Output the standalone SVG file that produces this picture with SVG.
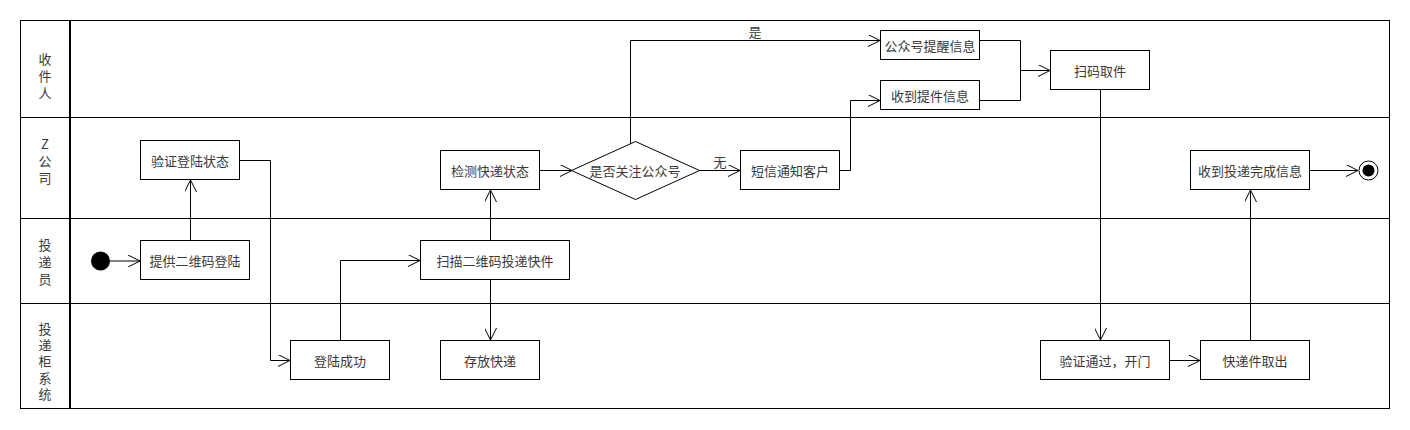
<svg xmlns="http://www.w3.org/2000/svg" width="1410" height="430" viewBox="0 0 1410 430">
<style>
.box{fill:#fff;stroke:#000;stroke-width:1}
.t{font-family:"Noto Sans CJK SC","Liberation Sans",sans-serif;font-size:13px;fill:#3a3a3a;text-anchor:middle;dominant-baseline:central}
.lane{font-family:"Noto Sans CJK SC","Liberation Sans",sans-serif;font-size:13px;fill:#3a3a3a;text-anchor:middle;dominant-baseline:central}
.c{fill:none;stroke:#000;stroke-width:1}
</style>
<defs>
<marker id="arr" markerUnits="userSpaceOnUse" markerWidth="14" markerHeight="12" refX="12" refY="6" orient="auto">
<path d="M0,0 L12,6 L0,12" fill="none" stroke="#000" stroke-width="1"/>
</marker>
</defs>
<rect width="1410" height="430" fill="#fff"/>
<g id="lanes">
<rect x="20.5" y="20.5" width="1369" height="388" fill="none" stroke="#000"/>
<line x1="70" y1="20" x2="70" y2="409" stroke="#000" stroke-width="2"/>
<line x1="20" y1="117.5" x2="1390" y2="117.5" stroke="#000"/>
<line x1="20" y1="218.5" x2="1390" y2="218.5" stroke="#000"/>
<line x1="20" y1="303.5" x2="1390" y2="303.5" stroke="#000"/>
<text class="lane" x="45" y="58">收</text>
<text class="lane" x="45" y="75">件</text>
<text class="lane" x="45" y="92">人</text>
<text class="lane" x="45" y="143">Z</text>
<text class="lane" x="45" y="160">公</text>
<text class="lane" x="45" y="177">司</text>
<text class="lane" x="45" y="244">投</text>
<text class="lane" x="45" y="261">递</text>
<text class="lane" x="45" y="278">员</text>
<text class="lane" x="45" y="328">投</text>
<text class="lane" x="45" y="344">递</text>
<text class="lane" x="45" y="360">柜</text>
<text class="lane" x="45" y="377">系</text>
<text class="lane" x="45" y="393">统</text>
</g>
<g id="connectors">
<line class="c" x1="110" y1="261" x2="140" y2="261" marker-end="url(#arr)"/>
<line class="c" x1="190.5" y1="240" x2="190.5" y2="180" marker-end="url(#arr)"/>
<polyline class="c" points="240,160.5 270.5,160.5 270.5,360.5 290,360.5" marker-end="url(#arr)"/>
<polyline class="c" points="340.5,340 340.5,260.5 420,260.5" marker-end="url(#arr)"/>
<line class="c" x1="490.5" y1="280" x2="490.5" y2="340" marker-end="url(#arr)"/>
<line class="c" x1="490.5" y1="240" x2="490.5" y2="190" marker-end="url(#arr)"/>
<line class="c" x1="540" y1="170.5" x2="572" y2="170.5" marker-end="url(#arr)"/>
<line class="c" x1="699" y1="170.5" x2="740" y2="170.5" marker-end="url(#arr)"/>
<text class="t" x="720" y="161">无</text>
<polyline class="c" points="630.5,145 630.5,40.5 880,40.5" marker-end="url(#arr)"/>
<text class="t" x="755" y="31">是</text>
<polyline class="c" points="840,170.5 850.5,170.5 850.5,100.5 880,100.5" marker-end="url(#arr)"/>
<polyline class="c" points="980,40.5 1020.5,40.5 1020.5,100.5 980,100.5"/>
<line class="c" x1="1020" y1="70.5" x2="1050" y2="70.5" marker-end="url(#arr)"/>
<line class="c" x1="1100.5" y1="90" x2="1100.5" y2="340" marker-end="url(#arr)"/>
<line class="c" x1="1170" y1="360.5" x2="1200" y2="360.5" marker-end="url(#arr)"/>
<line class="c" x1="1250.5" y1="340" x2="1250.5" y2="190" marker-end="url(#arr)"/>
<line class="c" x1="1310" y1="170.5" x2="1358" y2="170.5" marker-end="url(#arr)"/>
</g>
<g id="start"><circle cx="100.5" cy="261" r="9.5" fill="#000"/></g>
<g id="n1"><rect class="box" x="140.5" y="240.5" width="109" height="39"/><text class="t" x="195" y="260">提供二维码登陆</text></g>
<g id="n2"><rect class="box" x="140.5" y="140.5" width="99" height="39"/><text class="t" x="190" y="160">验证登陆状态</text></g>
<g id="n3"><rect class="box" x="290.5" y="340.5" width="99" height="39"/><text class="t" x="340" y="360">登陆成功</text></g>
<g id="n4"><rect class="box" x="420.5" y="240.5" width="149" height="39"/><text class="t" x="495" y="260">扫描二维码投递快件</text></g>
<g id="n5"><rect class="box" x="440.5" y="340.5" width="99" height="39"/><text class="t" x="490" y="360">存放快递</text></g>
<g id="n6"><rect class="box" x="440.5" y="150.5" width="99" height="39"/><text class="t" x="490" y="170">检测快递状态</text></g>
<g id="d1"><polygon points="635.5,141.5 699.5,170.5 635.5,199.5 571.5,170.5" fill="#fff" stroke="#000"/><text class="t" x="635" y="170">是否关注公众号</text></g>
<g id="n7"><rect class="box" x="740.5" y="150.5" width="99" height="39"/><text class="t" x="790" y="170">短信通知客户</text></g>
<g id="n8"><rect class="box" x="880.5" y="30.5" width="99" height="29"/><text class="t" x="930" y="45">公众号提醒信息</text></g>
<g id="n9"><rect class="box" x="880.5" y="80.5" width="99" height="29"/><text class="t" x="930" y="95">收到提件信息</text></g>
<g id="n10"><rect class="box" x="1050.5" y="50.5" width="99" height="39"/><text class="t" x="1100" y="70">扫码取件</text></g>
<g id="n11"><rect class="box" x="1040.5" y="340.5" width="129" height="39"/><text class="t" x="1105" y="360">验证通过，开门</text></g>
<g id="n12"><rect class="box" x="1200.5" y="340.5" width="109" height="39"/><text class="t" x="1255" y="360">快递件取出</text></g>
<g id="n13"><rect class="box" x="1190.5" y="150.5" width="119" height="39"/><text class="t" x="1250" y="170">收到投递完成信息</text></g>
<g id="end"><circle cx="1368.5" cy="170.5" r="9.5" fill="#fff" stroke="#000"/><circle cx="1368.5" cy="170.5" r="6" fill="#000"/></g>
</svg>
